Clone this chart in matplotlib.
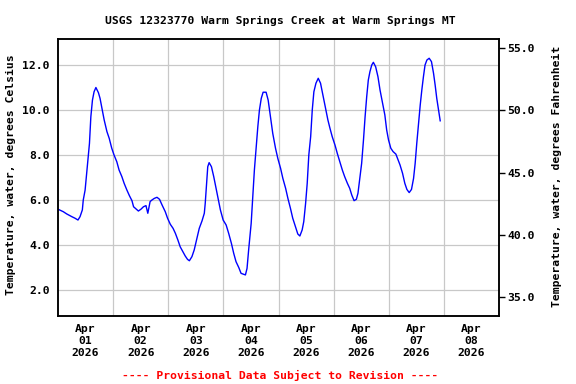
import pandas as pd
import matplotlib
matplotlib.use("Agg")
import matplotlib.pyplot as plt

# --- data (hours since 2026-04-01 00:00, deg C) ---
HOURS = [0.0, 2.3, 3.8, 6.0, 7.4, 8.7, 9.6, 10.6, 11.0, 11.8, 12.5, 13.2, 13.7,
         14.3, 15.0, 15.7, 16.5, 17.6, 18.3, 19.3, 20.1, 21.3, 22.3, 23.4, 24.4,
         25.6, 26.6, 27.8, 28.8, 30.0, 31.1, 32.2, 32.9, 34.0, 35.0, 36.1, 37.2,
         38.3, 39.1, 40.1, 40.9, 41.9, 43.1, 44.2, 45.3, 46.7, 47.7, 48.9, 50.1,
         51.1, 52.2, 53.2, 54.4, 55.4, 56.4, 57.2, 58.3, 59.3, 60.5, 61.5, 62.7,
         63.7, 64.1, 64.6, 65.2, 65.8, 66.8, 67.8, 68.8, 69.7, 70.7, 71.9, 73.2,
         74.3, 75.5, 76.5, 77.5, 78.7, 79.7, 81.6, 82.3, 83.0, 84.1, 84.8, 85.5,
         86.3, 87.0, 87.7, 88.5, 89.3, 90.6, 91.5, 92.5, 93.5, 94.7, 95.7, 96.9,
         97.9, 99.1, 100.1, 101.2, 102.2, 103.4, 104.4, 105.3, 106.3, 107.0,
         107.8, 108.5, 109.2, 110.0, 110.7, 111.4, 112.3, 113.3, 114.3, 115.3,
         116.5, 117.5, 118.4, 119.4, 120.6, 121.6, 122.7, 123.8, 124.8, 126.0,
         127.0, 127.9, 128.9, 129.9, 130.6, 131.5, 132.2, 133.0, 133.7, 134.4,
         135.1, 135.8, 136.6, 137.3, 138.3, 139.3, 140.2, 141.2, 142.3, 143.1,
         143.9, 144.9, 145.9, 147.1, 148.1, 148.9, 150.0, 151.0, 151.9, 152.9,
         153.9, 154.8, 155.5, 156.2, 157.0, 157.7, 158.4, 159.1, 159.8, 160.6,
         161.6, 162.6, 163.5, 164.2, 164.9, 165.7, 166.4]
TEMP_C = [5.59, 5.48, 5.38, 5.26, 5.19, 5.11, 5.26, 5.56, 6.00, 6.44, 7.20, 7.93,
          8.52, 9.70, 10.44, 10.81, 11.00, 10.77, 10.52, 10.00, 9.56, 9.04, 8.74,
          8.30, 8.00, 7.70, 7.33, 7.04, 6.74, 6.44, 6.19, 5.97, 5.70, 5.60, 5.51,
          5.59, 5.70, 5.75, 5.41, 5.93, 6.00, 6.07, 6.12, 6.03, 5.78, 5.48, 5.19,
          4.92, 4.74, 4.52, 4.22, 3.92, 3.70, 3.51, 3.36, 3.30, 3.48, 3.78, 4.30,
          4.74, 5.07, 5.41, 5.85, 6.59, 7.48, 7.66, 7.48, 7.04, 6.52, 6.07, 5.56,
          5.11, 4.89, 4.52, 4.07, 3.63, 3.26, 3.00, 2.74, 2.67, 2.96, 3.78, 4.96,
          6.15, 7.33, 8.37, 9.26, 10.00, 10.52, 10.79, 10.79, 10.44, 9.70, 8.96,
          8.30, 7.85, 7.41, 6.96, 6.52, 6.07, 5.63, 5.19, 4.81, 4.49, 4.40, 4.67,
          5.04, 5.85, 6.74, 8.00, 8.81, 10.00, 10.81, 11.19, 11.41, 11.19, 10.67,
          10.07, 9.56, 9.19, 8.81, 8.44, 8.07, 7.70, 7.33, 7.04, 6.74, 6.52, 6.22,
          5.97, 6.03, 6.30, 7.04, 7.63, 8.67, 9.70, 10.59, 11.33, 11.70, 12.00,
          12.12, 11.92, 11.48, 10.89, 10.37, 9.78, 9.11, 8.67, 8.30, 8.15, 8.04,
          7.78, 7.56, 7.19, 6.74, 6.47, 6.33, 6.47, 6.96, 7.63, 8.52, 9.41, 10.22,
          10.89, 11.48, 12.00, 12.22, 12.30, 12.15, 11.63, 11.11, 10.52, 10.00,
          9.52]

C_TICKS = [2.0, 4.0, 6.0, 8.0, 10.0, 12.0]
F_TICKS = [35.0, 40.0, 45.0, 50.0, 55.0]
DAY_LABELS = ["Apr\n01\n2026", "Apr\n02\n2026", "Apr\n03\n2026", "Apr\n04\n2026",
              "Apr\n05\n2026", "Apr\n06\n2026", "Apr\n07\n2026", "Apr\n08\n2026"]

TITLE = "USGS 12323770 Warm Springs Creek at Warm Springs MT"
NOTE = "---- Provisional Data Subject to Revision ----"

plt.rcParams['font.family'] = ['DejaVu Sans Mono']
plt.rcParams['font.weight'] = 'bold'
FS = 8.2

start = pd.Timestamp("2026-04-01")
times = start + pd.to_timedelta(HOURS, unit="h")
days = pd.date_range(start, periods=9, freq="D")
mids = days[:-1] + pd.Timedelta(hours=12)

fig = plt.figure(figsize=(5.76, 3.84), dpi=100)
ax = fig.add_axes([58 / 576, 1 - 316 / 384, 441 / 576, 277 / 384])

ax.plot(times, TEMP_C, color="#0000ff", lw=1.0)

c_lo, c_hi = 0.844, 13.156
ax.set_ylim(c_lo, c_hi)
ax.set_xlim(days[0], days[-1])

ax.set_yticks(C_TICKS)
ax.set_yticklabels([f"{v:.1f}" for v in C_TICKS], fontsize=FS)
ax.tick_params(axis="y", length=0, pad=6)

ax.set_xticks(days[1:-1])
ax.set_xticklabels([])
ax.set_xticks(mids, minor=True)
ax.set_xticklabels(DAY_LABELS, minor=True, fontsize=FS, linespacing=1.25)
ax.tick_params(axis="x", which="both", length=0)
ax.tick_params(axis="x", which="minor", pad=6)

ax.grid(True, color="#c8c8c8", lw=0.9)
ax.set_axisbelow(True)
for s in ax.spines.values():
    s.set_linewidth(1.1)

ax2 = ax.twinx()
ax2.set_ylim(c_lo * 1.8 + 32, c_hi * 1.8 + 32)
ax2.set_yticks(F_TICKS)
ax2.set_yticklabels([f"{v:.1f}" for v in F_TICKS], fontsize=FS)
ax2.tick_params(axis="y", length=4, width=1, pad=2)
for s in ax2.spines.values():
    s.set_linewidth(1.1)

fig.text(280 / 576, 1 - 21 / 384, TITLE, ha="center", va="center", fontsize=FS)
fig.text(11 / 576, 1 - 175 / 384, "Temperature, water, degrees Celsius",
         rotation=90, ha="center", va="center", fontsize=FS)
fig.text(557 / 576, 1 - 176 / 384, "Temperature, water, degrees Fahrenheit",
         rotation=90, ha="center", va="center", fontsize=FS)
fig.text(280 / 576, 1 - 375 / 384, NOTE, ha="center", va="center",
         fontsize=FS, color="#ff0000")

fig.savefig("out.png", dpi=100)
